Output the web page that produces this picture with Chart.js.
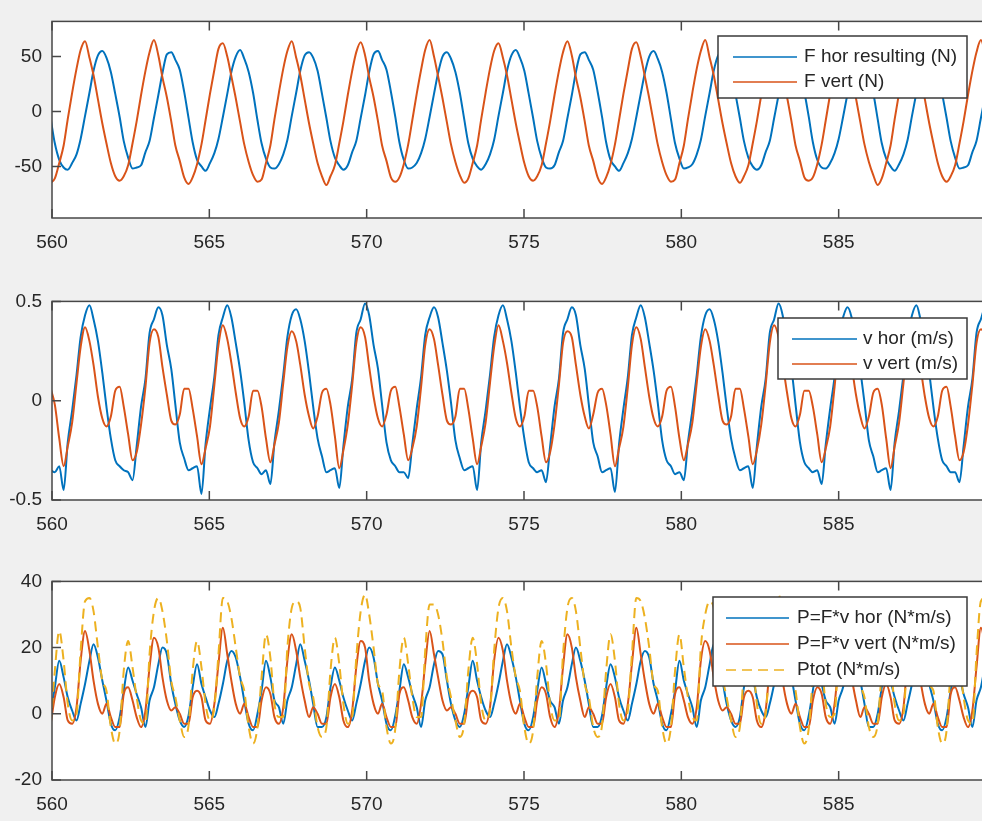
<!DOCTYPE html>
<html>
<head>
<meta charset="utf-8">
<script src="https://cdn.jsdelivr.net/npm/chart.js@4.4.1/dist/chart.umd.min.js"></script>
<style>
  html, body { margin: 0; padding: 0; background: #f0f0f0; width: 982px; height: 821px; overflow: hidden; }
  canvas { position: absolute; left: 0; }
</style>
</head>
<body>
<canvas id="p1" width="1000" height="270" style="top:0px"></canvas>
<canvas id="p2" width="1000" height="270" style="top:280px"></canvas>
<canvas id="p3" width="1000" height="270" style="top:560px"></canvas>
<script>
// sample times (s), one row per stroke cycle
const time = [
    559.96, 560.09, 560.23, 560.37, 560.50, 560.64, 560.78, 560.91, 561.05, 561.19, 561.32, 561.46, 561.60, 561.73, 561.87, 562.01,
    562.15, 562.28, 562.42, 562.56, 562.69, 562.83, 562.97, 563.10, 563.24, 563.38, 563.51, 563.65, 563.79, 563.92, 564.06, 564.20,
    564.34, 564.47, 564.61, 564.75, 564.88, 565.02, 565.16, 565.29, 565.43, 565.57, 565.70, 565.84, 565.98, 566.11, 566.25, 566.39,
    566.53, 566.66, 566.80, 566.94, 567.07, 567.21, 567.35, 567.48, 567.62, 567.76, 567.89, 568.03, 568.17, 568.30, 568.44, 568.58,
    568.72, 568.85, 568.99, 569.13, 569.26, 569.40, 569.54, 569.67, 569.81, 569.95, 570.08, 570.22, 570.36, 570.49, 570.63, 570.77,
    570.91, 571.04, 571.18, 571.32, 571.45, 571.59, 571.73, 571.86, 572.00, 572.14, 572.27, 572.41, 572.55, 572.68, 572.82, 572.96,
    573.10, 573.23, 573.37, 573.51, 573.64, 573.78, 573.92, 574.05, 574.19, 574.33, 574.46, 574.60, 574.74, 574.87, 575.01, 575.15,
    575.29, 575.42, 575.56, 575.70, 575.83, 575.97, 576.11, 576.24, 576.38, 576.52, 576.65, 576.79, 576.93, 577.06, 577.20, 577.34,
    577.48, 577.61, 577.75, 577.89, 578.02, 578.16, 578.30, 578.43, 578.57, 578.71, 578.84, 578.98, 579.12, 579.25, 579.39, 579.53,
    579.67, 579.80, 579.94, 580.08, 580.21, 580.35, 580.49, 580.62, 580.76, 580.90, 581.03, 581.17, 581.31, 581.44, 581.58, 581.72,
    581.86, 581.99, 582.13, 582.27, 582.40, 582.54, 582.68, 582.81, 582.95, 583.09, 583.22, 583.36, 583.50, 583.63, 583.77, 583.91,
    584.05, 584.18, 584.32, 584.46, 584.59, 584.73, 584.87, 585.00, 585.14, 585.28, 585.41, 585.55, 585.69, 585.82, 585.96, 586.10,
    586.24, 586.37, 586.51, 586.65, 586.78, 586.92, 587.06, 587.19, 587.33, 587.47, 587.60, 587.74, 587.88, 588.01, 588.15, 588.29,
    588.43, 588.56, 588.70, 588.84, 588.97, 589.11, 589.25, 589.38, 589.52, 589.66, 589.79, 589.93, 590.07, 590.20, 590.34, 590.48
]

// F hor resulting (N)
const fHor = [
    -7, -29, -44, -51, -53, -47, -39, -25, -4, 17, 37, 51, 55, 49, 36, 16,
    -5, -27, -42, -52, -51, -49, -37, -27, -6, 15, 35, 52, 54, 47, 38, 18,
    -6, -28, -44, -50, -54, -47, -38, -25, -5, 16, 36, 50, 56, 48, 36, 17,
    -8, -29, -43, -51, -52, -48, -39, -26, -4, 17, 37, 51, 54, 49, 37, 16,
    -6, -27, -42, -49, -53, -49, -37, -27, -6, 15, 36, 52, 55, 47, 38, 18,
    -5, -28, -44, -52, -51, -47, -38, -25, -5, 16, 35, 50, 54, 48, 36, 17,
    -7, -29, -43, -50, -53, -48, -39, -26, -4, 17, 37, 51, 56, 49, 37, 16,
    -6, -27, -42, -51, -52, -49, -37, -27, -6, 15, 36, 52, 54, 47, 38, 18,
    -5, -28, -44, -50, -54, -47, -38, -25, -5, 16, 35, 50, 55, 48, 36, 17,
    -7, -29, -43, -52, -51, -48, -39, -26, -4, 17, 37, 51, 54, 49, 37, 16,
    -6, -27, -42, -50, -53, -49, -37, -27, -6, 15, 36, 52, 56, 47, 38, 18,
    -5, -28, -44, -51, -52, -47, -38, -25, -5, 16, 35, 50, 54, 48, 36, 17,
    -7, -29, -43, -50, -54, -48, -39, -26, -4, 17, 37, 51, 55, 49, 37, 16,
    -6, -27, -42, -52, -51, -49, -37, -27, -6, 15, 36, 52, 54, 47, 38, 18
]

// F vert (N)
const fVert = [
    -65, -61, -47, -31, -7, 17, 39, 56, 64, 49, 33, 11, -11, -29, -47, -59,
    -63, -59, -49, -29, -9, 15, 37, 54, 65, 51, 31, 13, -9, -31, -45, -60,
    -66, -60, -48, -30, -8, 16, 38, 57, 62, 50, 32, 12, -10, -30, -46, -58,
    -64, -62, -47, -31, -7, 17, 39, 55, 64, 49, 33, 11, -11, -29, -47, -59,
    -67, -59, -49, -29, -9, 15, 37, 54, 63, 51, 31, 13, -9, -31, -45, -60,
    -64, -60, -48, -30, -8, 16, 38, 56, 65, 50, 32, 12, -10, -30, -46, -58,
    -65, -61, -47, -31, -7, 17, 39, 55, 62, 49, 33, 11, -11, -29, -47, -59,
    -63, -59, -49, -29, -9, 15, 37, 54, 64, 51, 31, 13, -9, -31, -45, -60,
    -66, -60, -48, -30, -8, 16, 38, 57, 63, 50, 32, 12, -10, -30, -46, -58,
    -64, -62, -47, -31, -7, 17, 39, 55, 65, 49, 33, 11, -11, -29, -47, -59,
    -65, -59, -49, -29, -9, 15, 37, 54, 62, 51, 31, 13, -9, -31, -45, -60,
    -63, -60, -48, -30, -8, 16, 38, 56, 64, 50, 32, 12, -10, -30, -46, -58,
    -67, -61, -47, -31, -7, 17, 39, 55, 63, 49, 33, 11, -11, -29, -47, -59,
    -64, -59, -49, -29, -9, 15, 37, 54, 65, 51, 31, 13, -9, -31, -45, -60
]

// v hor (m/s)
const vHor = [
    -0.35, -0.36, -0.33, -0.45, -0.21, -0.05, 0.13, 0.32, 0.43, 0.48, 0.41, 0.30, 0.14, -0.03, -0.19, -0.30,
    -0.33, -0.35, -0.36, -0.40, -0.23, -0.03, 0.11, 0.34, 0.41, 0.47, 0.43, 0.28, 0.16, -0.02, -0.21, -0.29,
    -0.35, -0.34, -0.33, -0.47, -0.22, -0.04, 0.12, 0.33, 0.42, 0.48, 0.42, 0.29, 0.15, -0.01, -0.20, -0.31,
    -0.34, -0.37, -0.35, -0.42, -0.21, -0.05, 0.13, 0.32, 0.43, 0.46, 0.41, 0.30, 0.14, -0.03, -0.19, -0.28,
    -0.36, -0.35, -0.34, -0.44, -0.23, -0.03, 0.11, 0.34, 0.41, 0.49, 0.43, 0.28, 0.16, -0.02, -0.21, -0.30,
    -0.33, -0.36, -0.36, -0.39, -0.22, -0.04, 0.12, 0.33, 0.42, 0.47, 0.42, 0.29, 0.15, -0.01, -0.20, -0.29,
    -0.35, -0.34, -0.33, -0.45, -0.21, -0.05, 0.13, 0.32, 0.43, 0.48, 0.41, 0.30, 0.14, -0.03, -0.19, -0.31,
    -0.34, -0.36, -0.35, -0.41, -0.23, -0.03, 0.11, 0.34, 0.41, 0.47, 0.43, 0.28, 0.16, -0.02, -0.21, -0.28,
    -0.36, -0.35, -0.34, -0.46, -0.22, -0.04, 0.12, 0.33, 0.42, 0.48, 0.42, 0.29, 0.15, -0.01, -0.20, -0.30,
    -0.33, -0.37, -0.36, -0.40, -0.21, -0.05, 0.13, 0.32, 0.43, 0.46, 0.41, 0.30, 0.14, -0.03, -0.19, -0.29,
    -0.35, -0.34, -0.33, -0.44, -0.23, -0.03, 0.11, 0.34, 0.41, 0.49, 0.43, 0.28, 0.16, -0.02, -0.21, -0.31,
    -0.34, -0.36, -0.35, -0.42, -0.22, -0.04, 0.12, 0.33, 0.42, 0.47, 0.42, 0.29, 0.15, -0.01, -0.20, -0.28,
    -0.36, -0.35, -0.34, -0.45, -0.21, -0.05, 0.13, 0.32, 0.43, 0.48, 0.41, 0.30, 0.14, -0.03, -0.19, -0.30,
    -0.33, -0.36, -0.36, -0.41, -0.23, -0.03, 0.11, 0.34, 0.41, 0.47, 0.43, 0.28, 0.16, -0.02, -0.21, -0.29
]

// v vert (m/s)
const vVert = [
    0.06, -0.02, -0.19, -0.33, -0.23, -0.11, 0.09, 0.27, 0.37, 0.30, 0.18, 0.02, -0.09, -0.13, -0.08, 0.05,
    0.07, -0.03, -0.17, -0.30, -0.26, -0.12, 0.07, 0.29, 0.36, 0.32, 0.17, 0.03, -0.10, -0.12, -0.07, 0.06,
    0.06, -0.04, -0.18, -0.32, -0.24, -0.13, 0.08, 0.28, 0.38, 0.31, 0.19, 0.04, -0.09, -0.13, -0.08, 0.05,
    0.05, -0.03, -0.19, -0.31, -0.22, -0.11, 0.09, 0.27, 0.35, 0.30, 0.18, 0.03, -0.08, -0.14, -0.08, 0.04,
    0.06, -0.02, -0.18, -0.34, -0.25, -0.12, 0.08, 0.29, 0.37, 0.32, 0.17, 0.02, -0.09, -0.13, -0.07, 0.05,
    0.07, -0.03, -0.17, -0.30, -0.24, -0.13, 0.07, 0.28, 0.36, 0.31, 0.18, 0.03, -0.10, -0.12, -0.08, 0.06,
    0.06, -0.04, -0.19, -0.32, -0.23, -0.11, 0.09, 0.27, 0.38, 0.30, 0.19, 0.04, -0.09, -0.13, -0.08, 0.05,
    0.05, -0.03, -0.18, -0.31, -0.26, -0.12, 0.08, 0.29, 0.35, 0.32, 0.18, 0.03, -0.08, -0.14, -0.07, 0.04,
    0.06, -0.02, -0.17, -0.33, -0.24, -0.13, 0.07, 0.28, 0.37, 0.31, 0.17, 0.02, -0.09, -0.13, -0.08, 0.05,
    0.07, -0.03, -0.19, -0.30, -0.22, -0.11, 0.09, 0.27, 0.36, 0.30, 0.18, 0.03, -0.10, -0.12, -0.08, 0.06,
    0.06, -0.04, -0.18, -0.32, -0.25, -0.12, 0.08, 0.29, 0.38, 0.32, 0.19, 0.04, -0.09, -0.13, -0.07, 0.05,
    0.05, -0.03, -0.17, -0.31, -0.24, -0.13, 0.07, 0.28, 0.35, 0.31, 0.18, 0.03, -0.08, -0.14, -0.08, 0.04,
    0.06, -0.02, -0.19, -0.34, -0.23, -0.11, 0.09, 0.27, 0.37, 0.30, 0.17, 0.02, -0.09, -0.13, -0.08, 0.05,
    0.07, -0.03, -0.18, -0.30, -0.26, -0.12, 0.08, 0.29, 0.36, 0.32, 0.18, 0.03, -0.10, -0.12, -0.07, 0.06
]

// P=F*v hor (N*m/s)
const pHor = [
    0, 8, 16, 11, 5, 1, -2, 3, 9, 16, 21, 17, 10, 4, -3, -5,
    -1, 7, 14, 10, 6, 2, -4, 4, 8, 15, 20, 18, 9, 3, -2, -4,
    -0.5, 8, 15, 9, 5, 1, -1, 3, 9, 16, 19, 17, 11, 4, -3, -5,
    0, 7, 16, 11, 4, 2, -3, 4, 8, 15, 21, 16, 10, 3, -4, -4,
    -1, 8, 14, 10, 5, 1, -2, 3, 9, 16, 20, 17, 9, 4, -3, -5,
    -0.5, 7, 15, 11, 6, 2, -4, 4, 8, 15, 19, 18, 10, 3, -2, -4,
    0, 8, 16, 10, 5, 1, -1, 3, 9, 16, 21, 17, 11, 4, -3, -5,
    -1, 7, 14, 9, 4, 2, -3, 4, 8, 15, 20, 16, 10, 3, -4, -4,
    -0.5, 8, 15, 11, 5, 1, -2, 3, 9, 16, 19, 17, 9, 4, -3, -5,
    0, 7, 16, 10, 6, 2, -4, 4, 8, 15, 21, 18, 10, 3, -2, -4,
    -1, 8, 14, 11, 5, 1, -1, 3, 9, 16, 20, 17, 11, 4, -3, -5,
    -0.5, 7, 15, 9, 4, 2, -3, 4, 8, 15, 19, 16, 10, 3, -4, -4,
    0, 8, 16, 10, 5, 1, -2, 3, 9, 16, 21, 17, 9, 4, -3, -5,
    -1, 7, 14, 11, 6, 2, -4, 4, 8, 15, 20, 18, 10, 3, -2, -4
]

// P=F*v vert (N*m/s)
const pVert = [
    -3, 5, 9, 5, -2, -3, 2, 16, 25, 19, 10, 3, 0, 3, -1, -4,
    -4, 6, 8, 4, -1, -4, 1, 14, 23, 20, 11, 4, 1, 2, 0, -3,
    -3, 5, 7, 5, -2, -3, 3, 15, 26, 18, 10, 3, 0, 3, -1, -4,
    -4, 4, 8, 6, -1, -3, 2, 16, 24, 19, 11, 4, -1, 2, 0, -3,
    -3, 5, 9, 5, -2, -4, 1, 14, 22, 20, 10, 3, 0, 3, -1, -4,
    -4, 6, 8, 4, -1, -3, 3, 15, 25, 18, 11, 4, 1, 2, 0, -3,
    -3, 5, 7, 5, -2, -3, 2, 16, 23, 19, 10, 3, 0, 3, -1, -4,
    -4, 4, 8, 6, -1, -4, 1, 14, 24, 20, 11, 4, -1, 2, 0, -3,
    -3, 5, 9, 5, -2, -3, 3, 15, 26, 18, 10, 3, 0, 3, -1, -4,
    -4, 6, 8, 4, -1, -3, 2, 16, 22, 19, 11, 4, 1, 2, 0, -3,
    -3, 5, 7, 5, -2, -4, 1, 14, 25, 20, 10, 3, 0, 3, -1, -4,
    -4, 4, 8, 6, -1, -3, 3, 15, 23, 18, 11, 4, -1, 2, 0, -3,
    -3, 5, 9, 5, -2, -3, 2, 16, 24, 19, 10, 3, 0, 3, -1, -4,
    -4, 6, 8, 4, -1, -4, 1, 14, 26, 20, 11, 4, 1, 2, 0, -3
]

// Ptot (N*m/s)
const pTot = [
    -3, 13, 25, 16, 3, -2, 0, 19, 34, 35, 31, 20, 10, 7, -4, -9,
    -5, 13, 22, 14, 5, -2, -3, 18, 31, 35, 31, 22, 10, 5, -2, -7,
    -3.5, 13, 22, 14, 3, -2, 2, 18, 35, 34, 29, 20, 11, 7, -4, -9,
    -4, 11, 24, 17, 3, -1, -1, 20, 32, 34, 32, 20, 9, 5, -4, -7,
    -4, 13, 23, 15, 3, -3, -1, 17, 31, 36, 30, 20, 9, 7, -4, -9,
    -4.5, 13, 23, 15, 5, -1, -1, 19, 33, 33, 30, 22, 11, 5, -2, -7,
    -3, 13, 23, 15, 3, -2, 1, 19, 32, 35, 31, 20, 11, 7, -4, -9,
    -5, 11, 22, 15, 3, -2, -2, 18, 32, 35, 31, 20, 9, 5, -4, -7,
    -3.5, 13, 24, 16, 3, -2, 1, 18, 35, 34, 29, 20, 9, 7, -4, -9,
    -4, 13, 24, 14, 5, -1, -2, 20, 30, 34, 32, 22, 11, 5, -2, -7,
    -4, 13, 21, 16, 3, -3, 0, 17, 34, 36, 30, 20, 11, 7, -4, -9,
    -4.5, 11, 23, 15, 3, -1, 0, 19, 31, 33, 30, 20, 9, 5, -4, -7,
    -3, 13, 25, 15, 3, -2, 0, 19, 33, 35, 31, 20, 9, 7, -4, -9,
    -5, 13, 22, 15, 5, -2, -3, 18, 34, 35, 31, 22, 11, 5, -2, -7
]

const xTicks = [560, 565, 570, 575, 580, 585]
const yTicksF = [-50, 0, 50]
const yTicksV = [-0.5, 0, 0.5]
const yTicksP = [-20, 0, 20, 40]

const BLUE = "#0072BD"
const ORANGE = "#D95319"
const YELLOW = "#EDB120"
const FONT = "\"Liberation Sans\", Arial, Helvetica, sans-serif"
const TEXT = "#262626"

const pts = series => time.map((t, i) => ({ x: t, y: series[i] }))

// white axes box, inward ticks and the boxed legend, MATLAB style
const matlabAxes = {
    id: "matlabAxes",
    beforeDraw(chart) {
        const { ctx, chartArea: a } = chart
        ctx.save()
        ctx.fillStyle = "#ffffff"
        ctx.fillRect(a.left, a.top, a.right - a.left, a.bottom - a.top)
        ctx.restore()
    },
    afterDatasetsDraw(chart, args, opts) {
        const { ctx, chartArea: a, scales } = chart
        const tl = 9
        ctx.save()
        ctx.strokeStyle = "#474747"
        ctx.lineWidth = 1.5
        ctx.strokeRect(a.left, a.top, a.right - a.left, a.bottom - a.top)
        ctx.beginPath()
        scales.x.ticks.forEach(t => {
            const px = scales.x.getPixelForValue(t.value)
            ctx.moveTo(px, a.bottom); ctx.lineTo(px, a.bottom - tl)
            ctx.moveTo(px, a.top); ctx.lineTo(px, a.top + tl)
        })
        scales.y.ticks.forEach(t => {
            const py = scales.y.getPixelForValue(t.value)
            ctx.moveTo(a.left, py); ctx.lineTo(a.left + tl, py)
            ctx.moveTo(a.right, py); ctx.lineTo(a.right - tl, py)
        })
        ctx.stroke()

        const L = opts.legend
        ctx.fillStyle = "#ffffff"
        ctx.fillRect(L.x, L.y, L.w, L.h)
        ctx.strokeStyle = "#3a3a3a"
        ctx.lineWidth = 1.5
        ctx.strokeRect(L.x, L.y, L.w, L.h)
        ctx.font = "19px " + FONT
        ctx.textBaseline = "middle"
        chart.data.datasets.forEach((ds, i) => {
            const y = L.y + L.first + i * L.rowH
            ctx.strokeStyle = ds.borderColor
            ctx.lineWidth = 1.5
            ctx.setLineDash(ds.borderDash || [])
            ctx.beginPath()
            ctx.moveTo(L.x0, y); ctx.lineTo(L.x1, y)
            ctx.stroke()
            ctx.setLineDash([])
            ctx.fillStyle = TEXT
            ctx.fillText(ds.label, L.tx, y)
        })
        ctx.restore()
    }
}

function panel(id, datasets, yMin, yMax, yTicks, padTop, axisH, legend) {
    return new Chart(document.getElementById(id), {
        type: "line",
        data: { datasets },
        options: {
            responsive: false,
            animation: false,
            layout: { padding: { top: padTop, right: 4, left: 0, bottom: 0 } },
            elements: {
                point: { radius: 0 },
                line: { borderWidth: 2, cubicInterpolationMode: "monotone" }
            },
            plugins: {
                legend: { display: false },
                tooltip: { enabled: false },
                matlabAxes: { legend }
            },
            scales: {
                x: {
                    type: "linear", min: 560, max: 590,
                    grid: { display: false, drawTicks: false },
                    border: { display: false },
                    afterBuildTicks: s => { s.ticks = xTicks.map(v => ({ value: v })) },
                    afterFit: s => { s.height = axisH },
                    ticks: { color: TEXT, font: { family: FONT, size: 19 }, padding: 13, maxRotation: 0, autoSkip: false }
                },
                y: {
                    type: "linear", min: yMin, max: yMax,
                    grid: { display: false, drawTicks: false },
                    border: { display: false },
                    afterBuildTicks: s => { s.ticks = yTicks.map(v => ({ value: v })) },
                    afterFit: s => { s.width = 52 },
                    ticks: { color: TEXT, font: { family: FONT, size: 19 }, padding: 10 }
                }
            }
        },
        plugins: [matlabAxes]
    })
}

panel("p1", [
    { label: "F hor resulting (N)", data: pts(fHor), borderColor: BLUE, order: 2 },
    { label: "F vert (N)", data: pts(fVert), borderColor: ORANGE, order: 1 }
], -97, 82, yTicksF, 17, 52,
    { x: 718, y: 36, w: 249, h: 62, first: 21, rowH: 25, x0: 733, x1: 797, tx: 804 })

panel("p2", [
    { label: "v hor (m/s)", data: pts(vHor), borderColor: BLUE, order: 2 },
    { label: "v vert (m/s)", data: pts(vVert), borderColor: ORANGE, order: 1 }
], -0.5, 0.5, yTicksV, 18, 50,
    { x: 778, y: 38, w: 189, h: 61, first: 21, rowH: 25, x0: 792, x1: 857, tx: 863 })

panel("p3", [
    { label: "P=F*v hor (N*m/s)", data: pts(pHor), borderColor: BLUE, order: 3 },
    { label: "P=F*v vert (N*m/s)", data: pts(pVert), borderColor: ORANGE, order: 2 },
    { label: "Ptot (N*m/s)", data: pts(pTot), borderColor: YELLOW, borderDash: [10, 6], order: 1 }
], -20, 40, yTicksP, 18, 50,
    { x: 713, y: 37, w: 254, h: 89, first: 21, rowH: 26, x0: 726, x1: 789, tx: 797 })
</script>
</body>
</html>
